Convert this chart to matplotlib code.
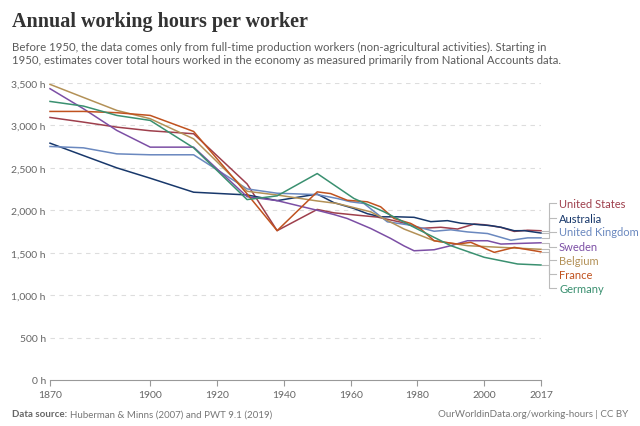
import matplotlib
matplotlib.use('Agg')
import matplotlib.pyplot as plt

# Huberman & Minns benchmark years, then PWT readings
aus_years = [1870, 1880, 1890, 1900, 1913, 1929, 1938, 1950, 1955, 1961, 1965, 1969,
             1974, 1979, 1984, 1989, 1993, 2002, 2005, 2009, 2012, 2017]
aus_hours = [2791, 2645, 2500, 2378, 2213, 2181, 2114, 2191, 2090, 2021, 1960, 1923,
             1923, 1917, 1866, 1878, 1848, 1819, 1800, 1759, 1760, 1732]

uk_years = [1870, 1880, 1890, 1900, 1913, 1929, 1938, 1950, 1956, 1960, 1964, 1971,
            1978, 1985, 1990, 1995, 2001, 2008, 2013, 2017]
uk_hours = [2752, 2736, 2665, 2654, 2654, 2252, 2201, 2185, 2139, 2100, 2080, 1864,
            1824, 1753, 1770, 1745, 1726, 1647, 1675, 1675]

us_years = [1870, 1880, 1890, 1900, 1913, 1929, 1938, 1950, 1955, 1962, 1968, 1975,
            1981, 1987, 1992, 1997, 2000, 2005, 2009, 2013, 2017]
us_hours = [3094, 3039, 2980, 2937, 2902, 2311, 1760, 2010, 1970, 1942, 1920, 1860,
            1787, 1800, 1779, 1838, 1830, 1799, 1751, 1765, 1759]

swe_years = [1870, 1880, 1890, 1900, 1913, 1929, 1938, 1950, 1955, 1959, 1966, 1972,
             1976, 1979, 1985, 1990, 1995, 2001, 2005, 2011, 2017]
swe_hours = [3433, 3197, 2941, 2744, 2744, 2160, 2114, 2000, 1950, 1903, 1786, 1668,
             1580, 1523, 1535, 1583, 1641, 1641, 1602, 1610, 1617]

bel_years = [1870, 1880, 1890, 1900, 1913, 1929, 1938, 1950, 1956, 1966, 1976, 1985,
             1995, 2005, 2017]
bel_hours = [3484, 3330, 3177, 3079, 2842, 2224, 2180, 2110, 2080, 1982, 1779, 1641,
             1583, 1563, 1540]

fra_years = [1870, 1880, 1890, 1900, 1913, 1929, 1938, 1950, 1954, 1959, 1965, 1969,
             1973, 1978, 1981, 1985, 1992, 1996, 2003, 2009, 2017]
fra_hours = [3165, 3165, 3150, 3118, 2929, 2193, 1760, 2217, 2197, 2118, 2100, 2041,
             1903, 1845, 1780, 1641, 1602, 1622, 1504, 1563, 1510]

ger_years = [1870, 1880, 1890, 1900, 1913, 1929, 1938, 1950, 1961, 1970, 1980, 1990,
             2000, 2010, 2017]
ger_hours = [3283, 3228, 3118, 3059, 2736, 2126, 2170, 2433, 2139, 1982, 1779, 1583,
             1446, 1367, 1355]

# legend order on the right, with label heights (data units)
names = ['United States', 'Australia', 'United Kingdom', 'Sweden', 'Belgium', 'France', 'Germany']
label_y = [2085, 1905, 1747, 1571, 1414, 1245, 1080]
series = [(us_years, us_hours), (aus_years, aus_hours), (uk_years, uk_hours),
          (swe_years, swe_hours), (bel_years, bel_hours), (fra_years, fra_hours),
          (ger_years, ger_hours)]
colors = ['#9e3f4c', '#18386b', '#6a88bf', '#7c4fa5', '#b39157', '#c0521f', '#3a9070']

xticks = [1870, 1900, 1920, 1940, 1960, 1980, 2000, 2017]
yticks = [0, 500, 1000, 1500, 2000, 2500, 3000, 3500]

plt.rcParams['font.family'] = ['Lato', 'DejaVu Sans']

fig = plt.figure(figsize=(6.4, 4.27), dpi=100)
ax = fig.add_axes([50/640, 1-381/427, 491/640, 297/427])

for (yrs, hrs), col in zip(series, colors):
    ax.plot(yrs, hrs, color=col, lw=1.1, clip_on=False, zorder=3)

# leader lines and labels
for (yrs, hrs), name, ly, col in zip(series, names, label_y, colors):
    ax.plot([2017.4, 2019.3, 2019.3, 2021.4], [hrs[-1], hrs[-1], ly, ly],
            color='#bbbbbb', lw=0.8, clip_on=False)
    ax.text(2022.4, ly, name, color=col, fontsize=8, va='center', ha='left')

ax.set_xlim(1870, 2017)
ax.set_ylim(0, 3500)
ax.set_xticks(xticks)
ax.set_yticks(yticks)
ax.set_yticklabels(['{:,} h'.format(v) for v in yticks])
for v in yticks[1:]:
    ax.axhline(v, color='#dddddd', lw=0.8, ls=(0, (4, 4)), zorder=1)

for s in ['top', 'right', 'left']:
    ax.spines[s].set_visible(False)
ax.spines['bottom'].set_color('#999999')
ax.spines['bottom'].set_linewidth(0.8)
ax.tick_params(axis='x', colors='#999999', length=4, width=0.8, labelsize=7.5,
               labelcolor='#666666', pad=3)
ax.tick_params(axis='y', length=0, labelsize=7.5, labelcolor='#666666', pad=3)

fig.text(12/640, 1-22/427, 'Annual working hours per worker', family='Liberation Serif',
         fontsize=14.5, weight='bold', color='#333333', va='center', ha='left')
fig.text(12/640, 1-54/427,
         'Before 1950, the data comes only from full-time production workers (non-agricultural activities). Starting in\n'
         '1950, estimates cover total hours worked in the economy as measured primarily from National Accounts data.',
         fontsize=8.2, color='#5b5b5b', va='center', ha='left', linespacing=1.3)

src = fig.text(12/640, 1-415/427, 'Data source:', fontsize=7, color='#666666', weight='bold',
               va='center', ha='left')
renderer = fig.canvas.get_renderer()
bb = src.get_window_extent(renderer)
fig.text((bb.x1 + 3)/640, 1-415/427, 'Huberman & Minns (2007) and PWT 9.1 (2019)', fontsize=7,
         color='#777777', va='center', ha='left')
fig.text(628/640, 1-415/427, 'OurWorldinData.org/working-hours | CC BY', fontsize=7,
         color='#777777', va='center', ha='right')

fig.savefig('out.png', dpi=100)
